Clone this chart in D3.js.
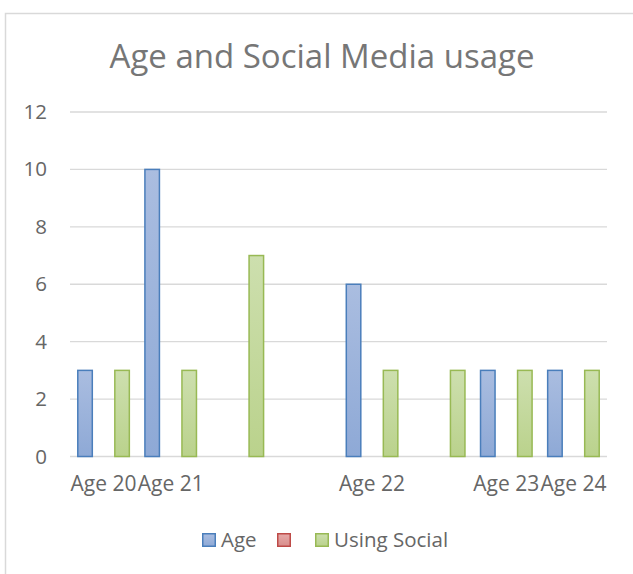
<!DOCTYPE html>
<html>
<meta charset="utf-8">
<style>
    body { margin: 0; background: #fff; }
    svg text { font-family: "Open Sans", sans-serif; fill: #666666; }
    .grid line { stroke: #d9d9d9; stroke-width: 1.3; }
</style>
<body>
<script src="https://cdn.jsdelivr.net/npm/d3@7/dist/d3.min.js"></script>
<div id="chart"></div>
<script>
    // data
    var categories = ["Age 20", "Age 21", "", "", "Age 22", "", "Age 23", "Age 24"];
    var seriesNames = ["Age", "", "Using Social"];
    var ageValues = [3, 10, null, null, 6, null, 3, 3];
    var blankValues = [null, null, null, null, null, null, null, null];
    var usingSocialValues = [3, 3, 7, null, 3, 3, 3, 3];
    var yTicks = [0, 2, 4, 6, 8, 10, 12];

    var seriesValues = [ageValues, blankValues, usingSocialValues];
    var seriesStroke = ["#4a7ebb", "#be4b48", "#98b954"];
    var seriesTop = ["#aabde0", "#e6aaa9", "#cddfae"];
    var seriesBottom = ["#8ea9d6", "#d98e8c", "#bad28c"];

    var W = 633, H = 574;
    var plot = { left: 70, right: 607, top: 112, bottom: 456.5 };

    var svg = d3.select("#chart").append("svg")
        .attr("width", W)
        .attr("height", H);

    var defs = svg.append("defs");
    seriesNames.forEach(function (s, i) {
        var g = defs.append("linearGradient")
            .attr("id", "grad" + i)
            .attr("x1", 0).attr("y1", 0).attr("x2", 0).attr("y2", 1);
        g.append("stop").attr("offset", "0%").attr("stop-color", seriesTop[i]);
        g.append("stop").attr("offset", "100%").attr("stop-color", seriesBottom[i]);
    });

    // chart area border (only top and left show in the crop)
    svg.append("rect")
        .attr("x", 5.5).attr("y", 13.5)
        .attr("width", 800).attr("height", 800)
        .attr("fill", "none")
        .attr("stroke", "#d9d9d9")
        .attr("stroke-width", 1.5);

    svg.append("text")
        .attr("x", 322).attr("y", 68)
        .attr("text-anchor", "middle")
        .style("font-size", "33px")
        .style("fill", "#767676")
        .text("Age and Social Media usage");

    var x0 = d3.scaleBand()
        .domain(d3.range(categories.length))
        .range([plot.left, plot.right]);

    var x1 = d3.scaleBand()
        .domain(d3.range(seriesNames.length))
        .range([0, x0.bandwidth()])
        .paddingInner(0.135)
        .paddingOuter(0.38);

    var y = d3.scaleLinear()
        .domain([0, 12])
        .range([plot.bottom, plot.top]);

    // gridlines
    svg.append("g").attr("class", "grid")
        .selectAll("line")
        .data(yTicks)
        .enter().append("line")
        .attr("x1", plot.left).attr("x2", plot.right)
        .attr("y1", function (d) { return y(d); })
        .attr("y2", function (d) { return y(d); });

    // y axis labels
    var yAxis = d3.axisLeft(y).tickValues(yTicks).tickSize(0).tickPadding(23);
    var gy = svg.append("g")
        .attr("transform", "translate(" + plot.left + ",0)")
        .call(yAxis);
    gy.select(".domain").remove();
    gy.selectAll("text").style("font-size", "20.5px").attr("fill", "#666666");

    // x axis labels
    var xAxis = d3.axisBottom(x0).tickSize(0).tickPadding(20)
        .tickFormat(function (i) { return categories[i]; });
    var gx = svg.append("g")
        .attr("transform", "translate(0," + plot.bottom + ")")
        .call(xAxis);
    gx.select(".domain").remove();
    gx.selectAll("text").style("font-size", "21px").attr("fill", "#666666");

    // bars
    var bars = [];
    seriesValues.forEach(function (vals, s) {
        vals.forEach(function (v, c) {
            if (v != null) bars.push({ s: s, c: c, v: v });
        });
    });

    svg.append("g").selectAll("rect")
        .data(bars)
        .enter().append("rect")
        .attr("x", function (d) { return x0(d.c) + x1(d.s) + 0.75; })
        .attr("width", x1.bandwidth() - 1.5)
        .attr("y", function (d) { return y(d.v); })
        .attr("height", function (d) { return plot.bottom - y(d.v); })
        .attr("fill", function (d) { return "url(#grad" + d.s + ")"; })
        .attr("stroke", function (d) { return seriesStroke[d.s]; })
        .attr("stroke-width", 1.5);

    // legend
    var legendX = [202, 277, 315];
    var legend = svg.append("g");
    seriesNames.forEach(function (name, i) {
        legend.append("rect")
            .attr("x", legendX[i] + 0.75).attr("y", 533.75)
            .attr("width", 12.5).attr("height", 12.5)
            .attr("fill", "url(#grad" + i + ")")
            .attr("stroke", seriesStroke[i])
            .attr("stroke-width", 1.5);
        legend.append("text")
            .attr("x", legendX[i] + 19).attr("y", 547)
            .style("font-size", "20.5px")
            .text(name);
    });
</script>
</body>
</html>
